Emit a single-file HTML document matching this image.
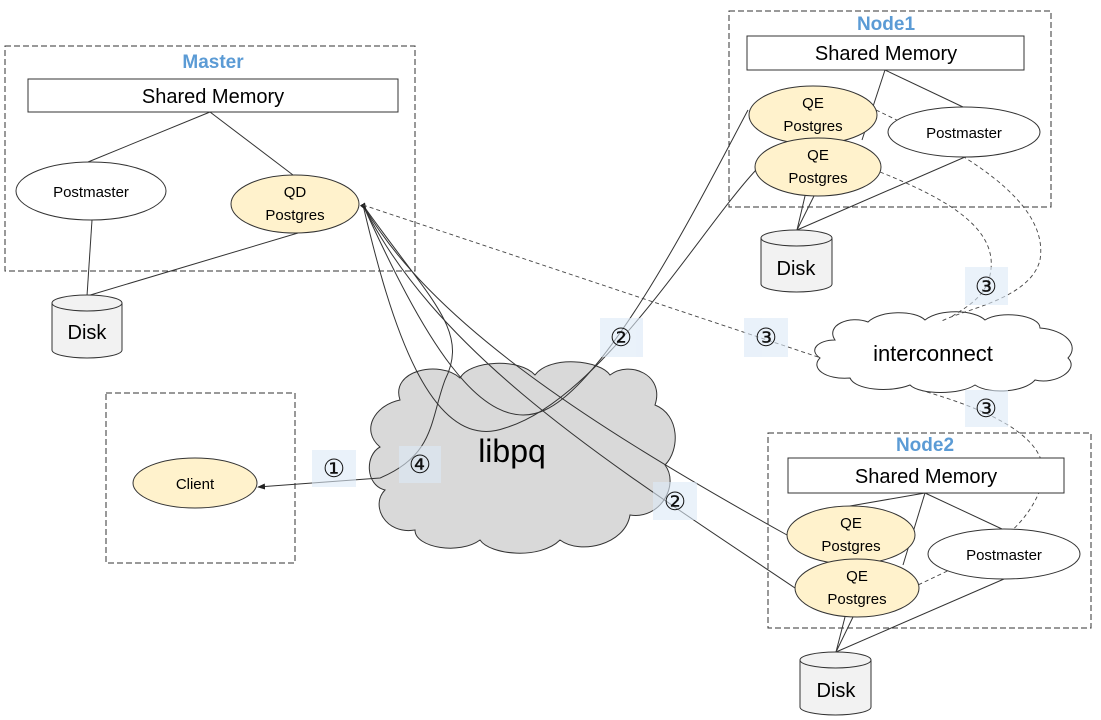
<!DOCTYPE html>
<html><head><meta charset="utf-8"><style>
html,body{margin:0;padding:0;background:#fff;}
svg{display:block;font-family:"Liberation Sans",sans-serif;}
</style></head><body>
<svg width="1101" height="720" viewBox="0 0 1101 720" xmlns="http://www.w3.org/2000/svg">
<defs><marker id="ar" markerWidth="8" markerHeight="8" refX="7" refY="4" orient="auto" markerUnits="userSpaceOnUse"><path d="M0,1 L8,4 L0,7 Z" fill="#222"/></marker></defs>
<g fill="none" stroke="#333" stroke-width="1">
<rect x="5" y="46" width="410" height="225" stroke-dasharray="6,3"/>
<rect x="729" y="11" width="322" height="196" stroke-dasharray="6,3"/>
<rect x="768" y="433" width="323" height="195" stroke-dasharray="6,3"/>
<rect x="106" y="393" width="189" height="170" stroke-dasharray="6,3"/>
</g>
<!-- libpq cloud -->
<path d="M400,400 C390,370 440,360 460,378 C470,360 520,358 535,375 C550,355 600,360 610,375 C630,360 665,375 655,405 C680,415 680,450 665,465 C680,485 660,520 630,515 C625,545 580,555 560,540 C540,560 490,555 480,540 C460,555 415,548 415,530 C385,535 370,505 385,490 C365,485 365,455 380,447 C360,430 375,405 400,400 Z" fill="#d9d9d9" stroke="#333"/>
<!-- interconnect cloud -->
<path d="M835,340 C825,325 850,315 868,322 C880,310 915,310 925,320 C940,308 975,310 985,320 C1000,310 1040,315 1040,328 C1065,330 1080,345 1068,358 C1080,370 1055,385 1035,380 C1025,392 990,395 975,385 C960,395 920,395 910,385 C890,393 855,390 850,378 C825,380 810,368 820,358 C808,350 818,340 835,340 Z" fill="#fff" stroke="#333"/>
<g fill="none" stroke="#333" stroke-width="1">
<line x1="210" y1="112" x2="88" y2="162"/>
<line x1="210" y1="112" x2="293" y2="175"/>
<line x1="92" y1="220" x2="87" y2="296"/>
<line x1="298" y1="233" x2="87" y2="296"/>
<line x1="885" y1="70" x2="963" y2="107"/>
<line x1="885" y1="70" x2="862" y2="140"/>
<line x1="805" y1="196" x2="797" y2="230"/>
<line x1="814" y1="196" x2="797" y2="230"/>
<line x1="965" y1="157" x2="797" y2="230"/>
<line x1="925" y1="493" x2="1002" y2="529"/>
<line x1="925" y1="493" x2="903" y2="565"/>
<line x1="925" y1="493" x2="850" y2="506"/>
<line x1="845" y1="617" x2="836" y2="652"/>
<line x1="853" y1="617" x2="836" y2="652"/>
<line x1="1004" y1="579" x2="836" y2="652"/>
<path d="M363,205 C420,330 480,440 545,410 C610,380 700,200 748,110"/>
<path d="M363,205 C390,320 430,455 505,428 C600,400 700,230 756,170"/>
<path d="M363,205 C430,320 580,420 787,535"/>
<path d="M363,205 C440,360 620,470 795,588"/>
<path d="M363,205 C430,300 470,330 445,380 C430,420 435,455 380,478 L258,487" marker-end="url(#ar)"/>
<path d="M363,205 L366,210" marker-end="url(#ar)"/>
</g>
<g fill="none" stroke="#444" stroke-width="0.9" stroke-dasharray="4,3">
<path d="M363,205 L818,357"/>
<path d="M876,110 C960,150 1050,200 1040,260 C1030,300 960,310 940,322"/>
<path d="M880,172 C950,200 1000,230 990,275 C985,300 960,310 950,318"/>
<path d="M920,390 C990,410 1060,440 1040,490 C1020,540 970,560 918,585"/>
</g>
<g fill="#fff" stroke="#333">
<rect x="28" y="79" width="370" height="33"/>
<rect x="747" y="36" width="277" height="34"/>
<rect x="788" y="458" width="276" height="35"/>
<ellipse cx="91" cy="191" rx="75" ry="29"/>
<ellipse cx="964" cy="132" rx="76" ry="25"/>
<ellipse cx="1004" cy="554" rx="76" ry="25"/>
</g>
<g fill="#fff2cc" stroke="#333">
<ellipse cx="295" cy="204" rx="64" ry="29"/>
<ellipse cx="813" cy="115" rx="64" ry="29"/>
<ellipse cx="818" cy="167" rx="63" ry="29"/>
<ellipse cx="851" cy="535" rx="64" ry="29"/>
<ellipse cx="857" cy="588" rx="62" ry="29"/>
<ellipse cx="195" cy="483" rx="62" ry="25"/>
</g>
<g fill="#f2f2f2" stroke="#333">
<path d="M52,303 L52,350 A35,8 0 0 0 122,350 L122,303"/>
<ellipse cx="87" cy="303" rx="35" ry="8"/>
<path d="M761,238 L761,284 A35.5,8 0 0 0 832,284 L832,238"/>
<ellipse cx="796.5" cy="238" rx="35.5" ry="8"/>
<path d="M800,660 L800,707 A35.5,8 0 0 0 871,707 L871,660"/>
<ellipse cx="835.5" cy="660" rx="35.5" ry="8"/>
</g>
<g fill="#dce9f7" opacity="0.6">
<rect x="312" y="450" width="44" height="37"/>
<rect x="399" y="446" width="42" height="37"/>
<rect x="600" y="318" width="43" height="39"/>
<rect x="653" y="482" width="44" height="38"/>
<rect x="744" y="318" width="44" height="39"/>
<rect x="965" y="267" width="43" height="38"/>
<rect x="965" y="390" width="43" height="37"/>
</g>
<g font-size="25" text-anchor="middle" fill="#111">
<text x="334" y="477">①</text>
<text x="420" y="473">④</text>
<text x="621" y="346">②</text>
<text x="675" y="510">②</text>
<text x="766" y="346">③</text>
<text x="986" y="295">③</text>
<text x="986" y="417">③</text>
</g>
<g text-anchor="middle" fill="#5b9bd5" font-weight="bold" font-size="19">
<text x="213" y="68">Master</text>
<text x="886" y="30">Node1</text>
<text x="925" y="451">Node2</text>
</g>
<g text-anchor="middle" fill="#000" font-size="20">
<text x="213" y="103">Shared Memory</text>
<text x="886" y="60">Shared Memory</text>
<text x="926" y="483">Shared Memory</text>
<text x="87" y="339">Disk</text>
<text x="796" y="275">Disk</text>
<text x="836" y="697">Disk</text>
</g>
<g text-anchor="middle" fill="#000" font-size="15">
<text x="91" y="197">Postmaster</text>
<text x="964" y="138">Postmaster</text>
<text x="1004" y="560">Postmaster</text>
<text x="195" y="489">Client</text>
<text x="295" y="197">QD</text><text x="295" y="220">Postgres</text>
<text x="813" y="108">QE</text><text x="813" y="131">Postgres</text>
<text x="818" y="160">QE</text><text x="818" y="183">Postgres</text>
<text x="851" y="528">QE</text><text x="851" y="551">Postgres</text>
<text x="857" y="581">QE</text><text x="857" y="604">Postgres</text>
</g>
<text x="512" y="462" font-size="32" text-anchor="middle">libpq</text>
<text x="933" y="361" font-size="22" text-anchor="middle">interconnect</text>
</svg>
</body></html>
